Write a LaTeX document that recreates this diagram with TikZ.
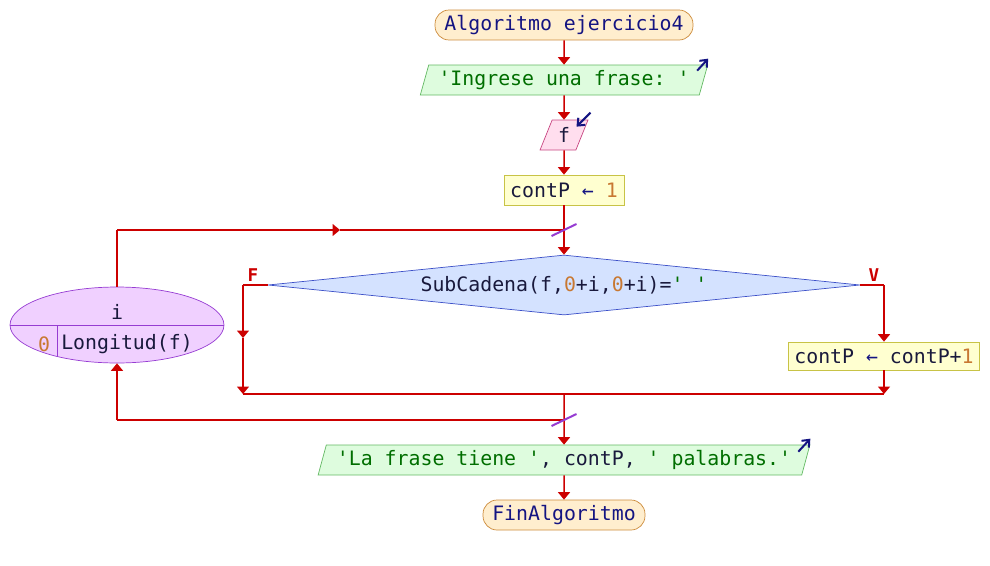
\documentclass[tikz,border=0pt]{standalone}
\usepackage{fontspec}
\setmonofont{DejaVu Sans Mono}
\usetikzlibrary{shapes.geometric,arrows.meta}

\definecolor{flechas}{RGB}{204,0,0}
\definecolor{termfill}{RGB}{255,238,206}
\definecolor{termdraw}{RGB}{205,140,60}
\definecolor{salfill}{RGB}{222,252,222}
\definecolor{saldraw}{RGB}{100,185,100}
\definecolor{entfill}{RGB}{255,222,238}
\definecolor{entdraw}{RGB}{200,70,130}
\definecolor{asigfill}{RGB}{255,255,208}
\definecolor{asigdraw}{RGB}{200,195,70}
\definecolor{decfill}{RGB}{212,226,255}
\definecolor{decdraw}{RGB}{60,80,200}
\definecolor{ciclofill}{RGB}{240,208,255}
\definecolor{ciclodraw}{RGB}{150,60,210}
\definecolor{clave}{RGB}{20,20,130}
\definecolor{ident}{RGB}{25,25,60}
\definecolor{cadena}{RGB}{0,110,0}
\definecolor{numero}{RGB}{200,120,50}

\newcommand{\cad}[1]{\textcolor{cadena}{#1}}
\newcommand{\nro}[1]{\textcolor{numero}{#1}}
\newcommand{\ide}[1]{\textcolor{ident}{#1}}

\begin{document}
\begin{tikzpicture}[x=0.02cm,y=-0.02cm,font=\ttfamily\fontsize{11.3}{13}\selectfont,
	linea/.style={draw=flechas,line width=0.03cm},
	flujo/.style={linea,-{Triangle[width=0.24cm,length=0.15cm]}},
	terminal/.style={draw=termdraw,fill=termfill,rounded corners=0.28cm,minimum height=0.6cm,text=clave,inner sep=0pt},
	salida/.style={trapezium,trapezium left angle=68,trapezium right angle=112,trapezium stretches=true,draw=saldraw,fill=salfill,minimum height=0.6cm,inner sep=0pt},
	entrada/.style={trapezium,trapezium left angle=68,trapezium right angle=112,trapezium stretches=true,draw=entdraw,fill=entfill,minimum height=0.6cm,inner sep=0pt},
	asigna/.style={draw=asigdraw,fill=asigfill,minimum height=0.6cm,inner sep=0pt},
	decision/.style={diamond,aspect=10,draw=decdraw,fill=decfill,minimum width=11.84cm,minimum height=1.2cm,inner sep=0pt},
	ciclo/.style={ellipse,draw=ciclodraw,fill=ciclofill,minimum width=4.28cm,minimum height=1.52cm},
	corte/.style={draw=ciclodraw,line width=0.04cm},
	icono/.style={draw=clave,line width=0.04cm,-{Straight Barb[length=0.12cm,width=0.2cm]}},
	etiq/.style={text=flechas,font=\ttfamily\fontsize{10}{11}\selectfont\bfseries}]
\useasboundingbox (0,0) rectangle (990,565);

% nodos
\node[terminal,minimum width=5.16cm] (inicio) at (564,25) {Algoritmo ejercicio4};
\node[salida,minimum width=5.76cm] (msg1) at (564,80) {\cad{'Ingrese una frase: '}};
\node[entrada,minimum width=0.96cm] (leer) at (564,135) {\ide{f}};
\node[asigna,minimum width=2.4cm] (init) at (564,190) {\ide{contP} \textcolor{clave}{←} \nro{1}};
\node[decision] (cond) at (564,285) {\ide{SubCadena(f,}\nro{0}\ide{+i,}\nro{0}\ide{+i)=}\cad{' '}};
\node[asigna,minimum width=3.82cm,minimum height=0.56cm] (suma) at (884,356) {\ide{contP} \textcolor{clave}{←} \ide{contP+}\nro{1}};
\node[ciclo] (para) at (117,325) {};
\node[salida,minimum width=9.84cm] (msg2) at (564,460) {\cad{'La frase tiene '}\ide{, contP, }\cad{' palabras.'}};
\node[terminal,minimum width=3.24cm] (fin) at (564,515) {FinAlgoritmo};

\node[etiq] (lf) at (253,275) {F};
\node[etiq] (lv) at (874,275) {V};

% textos del ciclo
\node[text=ident] (var) at (117,312) {i};
\node[text=numero] (ini) at (44,344) {0};
\node[text=ident] (lim) at (127,344) {Longitud(f)};
\draw[draw=ciclodraw] (para.west) -- (para.east);
\draw[draw=ciclodraw] (57.7,325) -- (57.7,356.6);

% puntos de union
\coordinate (jtop) at (564,230);
\coordinate (ltop) at (117,230);
\coordinate (lmid) at (340,230);
\coordinate (fcorner) at (243,285);
\coordinate (fmid) at (243,338);
\coordinate (fjoin) at (243,394);
\coordinate (vcorner) at (884,285);
\coordinate (vjoin) at (884,394);
\coordinate (join) at (564,394);
\coordinate (jbot) at (564,420);
\coordinate (lbot) at (117,420);

% conectores
\draw[flujo] (inicio) -- (msg1);
\draw[flujo] (msg1) -- (leer);
\draw[flujo] (leer) -- (init);
\draw[linea] (init) -- (jtop);
\draw[flujo] (jtop) -- (cond);
\draw[linea] (para) -- (ltop);
\draw[flujo] (ltop) -- (lmid);
\draw[linea] (lmid) -- (jtop);
\draw[linea] (cond.west) -- (fcorner);
\draw[flujo] (fcorner) -- (fmid);
\draw[flujo] (fmid) -- (fjoin);
\draw[linea] (cond.east) -- (vcorner);
\draw[flujo] (vcorner) -- (suma);
\draw[flujo] (suma) -- (vjoin);
\draw[linea] (fjoin) -- (vjoin);
\draw[flujo] (join) -- (msg2);
\draw[linea] (jbot) -- (lbot);
\draw[flujo] (lbot) -- (para);
\draw[flujo] (msg2) -- (fin);

% marcas
\draw[corte] (jtop) ++(-12.5,6) -- ++(25,-12);
\draw[corte] (jbot) ++(-12.5,6) -- ++(25,-12);
\draw[icono] (msg1.top right corner) ++(-11,6) -- ++(11,-12);
\draw[icono] (leer.top right corner) ++(2,-7) -- ++(-14,14);
\draw[icono] (msg2.top right corner) ++(-12,7) -- ++(12,-13);
\end{tikzpicture}
\end{document}
